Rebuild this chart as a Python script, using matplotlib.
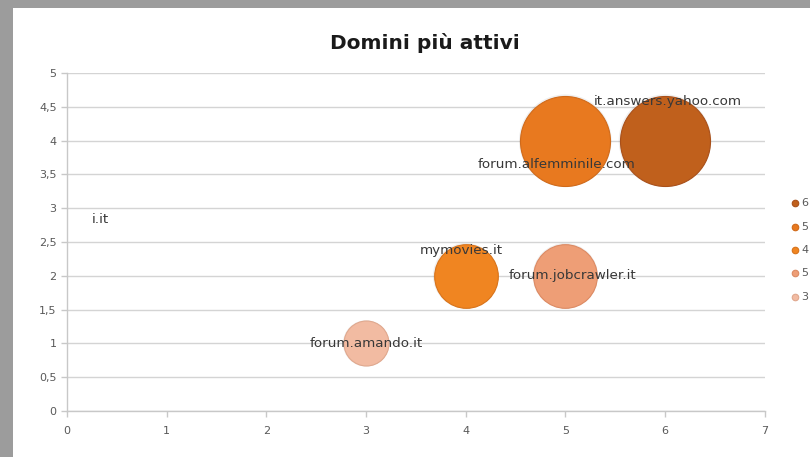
import matplotlib
matplotlib.use("Agg")
import matplotlib.pyplot as plt
from matplotlib.patches import Rectangle

plt.rcParams['font.family'] = ['DejaVu Sans']

# Data
domains = ["it.answers.yahoo.com", "forum.alfemminile.com", "mymovies.it",
           "forum.jobcrawler.it", "forum.amando.it"]
x_vals = [6, 5, 4, 5, 3]
y_vals = [4, 4, 2, 2, 1]
bubble_sizes = [8, 8, 4, 4, 2]
legend_labels = ["6", "5", "4", "5", "3"]
extra_label = "i.it"
extra_pos = (0.34, 2.83)

colors = ["#C0601C", "#E8791F", "#F08521", "#EE9E76", "#F2BBA2"]
edges = ["#A9501A", "#D06A1A", "#D8731A", "#DC8A63", "#E0A88E"]
label_offsets = [(-51, 28, 'left'), (-6, -17, 'center'), (-3, 18, 'center'),
                 (-41, 0, 'left'), (0, 0, 'center')]

x_ticks = [0, 1, 2, 3, 4, 5, 6, 7]
y_ticks = [0, 0.5, 1, 1.5, 2, 2.5, 3, 3.5, 4, 4.5, 5]
y_tick_labels = ["0", "0,5", "1", "1,5", "2", "2,5", "3", "3,5", "4", "4,5", "5"]

fig = plt.figure(figsize=(8.1, 4.57), dpi=100)
fig.patch.set_facecolor("white")

# screenshot border (gray frame top & left)
fig.add_artist(Rectangle((0, 0), 0.016, 1, transform=fig.transFigure,
                         facecolor="#9c9c9c", edgecolor="none", zorder=10))
fig.add_artist(Rectangle((0, 0.982), 1, 0.018, transform=fig.transFigure,
                         facecolor="#9c9c9c", edgecolor="none", zorder=10))

ax = fig.add_axes([0.0827, 0.1007, 0.944 - 0.0827, 0.840 - 0.1007])
ax.set_xlim(0, 7)
ax.set_ylim(0, 5)

ax.set_yticks(y_ticks)
ax.set_yticklabels(y_tick_labels)
ax.set_xticks(x_ticks)
ax.set_xticklabels([str(t) for t in x_ticks])
ax.yaxis.grid(True, color="#d4d4d4", linewidth=1.0)
ax.set_axisbelow(True)
for s in ["top", "right"]:
    ax.spines[s].set_visible(False)
for s in ["left", "bottom"]:
    ax.spines[s].set_color("#c8c8c8")
    ax.spines[s].set_linewidth(1.0)
ax.tick_params(axis="both", colors="#c8c8c8", labelcolor="#595959",
               labelsize=8, length=4, width=1.0, direction="out")
ax.tick_params(axis="x", pad=7)

k = 525
handles = []
for i in range(len(domains)):
    # soft shadow
    ax.scatter([x_vals[i]], [y_vals[i]], s=bubble_sizes[i] * k * 1.06,
               color="#000000", alpha=0.06, edgecolors="none", zorder=2)
    h = ax.scatter([x_vals[i]], [y_vals[i]], s=bubble_sizes[i] * k,
                   color=colors[i], edgecolors=edges[i], linewidths=0.8,
                   zorder=3, label=legend_labels[i])
    handles.append(h)
    dx, dy, ha = label_offsets[i]
    ax.annotate(domains[i], (x_vals[i], y_vals[i]), xytext=(dx, dy),
                textcoords="offset points", ha=ha, va="center",
                fontsize=9.7, color="#383838", zorder=5)

ax.text(extra_pos[0], extra_pos[1], extra_label, ha="center", va="center",
        fontsize=9.7, color="#383838")

fig.text(0.525, 0.905, "Domini più attivi", ha="center", va="center",
         fontsize=14.5, fontweight="bold", color="#1a1a1a")

leg = fig.legend(handles=handles, labels=legend_labels, loc="center left",
                 bbox_to_anchor=(0.971, 0.453), frameon=False, fontsize=8,
                 handletextpad=0.1, labelspacing=1.2,
                 handlelength=0.8, borderaxespad=0)
for t in leg.get_texts():
    t.set_color("#595959")
for lh in leg.legend_handles:
    lh.set_sizes([22])

fig.savefig("out.png", dpi=100)
